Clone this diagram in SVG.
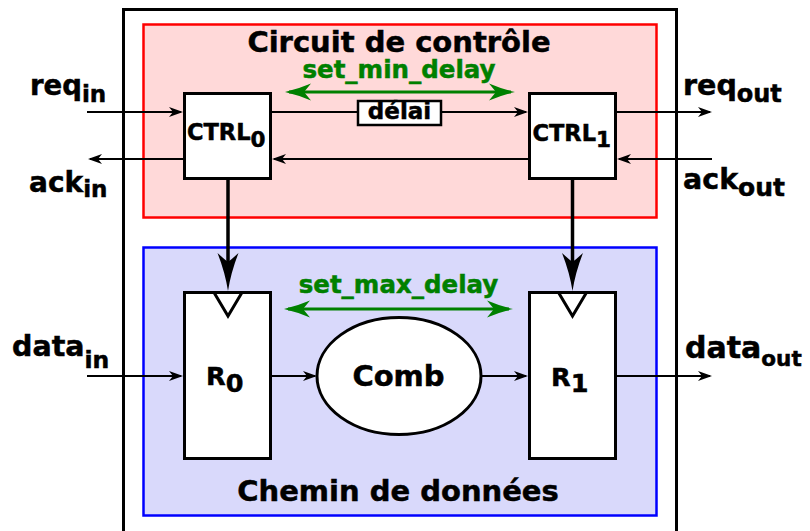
<svg xmlns="http://www.w3.org/2000/svg" width="810" height="531" viewBox="0 0 810 531">
  <style>
    .lbl { font-family: "DejaVu Sans", Verdana, sans-serif; font-weight: bold; fill: #000; stroke: #000; stroke-width: 0.5; }
    .grn { fill: #008000; stroke: #008000; }
    .wire { stroke: #000; stroke-width: 2; fill: none; }
    .clk { stroke: #000; stroke-width: 3; fill: none; }
    .box { fill: #fff; stroke: #000; stroke-width: 3; }
    .timing { stroke: #008000; stroke-width: 3; fill: none; }
  </style>
  <defs>
    <marker id="ah" markerUnits="userSpaceOnUse" markerWidth="16" markerHeight="12" viewBox="0 -6 16 12" refX="12" refY="0" orient="auto">
      <path d="M14,0 L0,-5 L4,0 L0,5 Z" fill="#000"/>
    </marker>
    <marker id="gh" markerUnits="userSpaceOnUse" markerWidth="28" markerHeight="18" viewBox="0 -9 28 18" refX="22" refY="0" orient="auto-start-reverse">
      <path d="M26,0 Q13,-3 0,-8.5 L7,0 L0,8.5 Q13,3 26,0 Z" fill="#008000"/>
    </marker>
  </defs>

  <!-- outer frame (continues below the bottom edge) -->
  <rect id="frame" x="123.5" y="9.5" width="553" height="540" fill="#fff" stroke="#000" stroke-width="3"/>

  <!-- control section -->
  <g id="control">
    <rect x="143.5" y="24.5" width="513" height="193" fill="#ffd9d9" stroke="#ff0000" stroke-width="2.5"/>
    <text class="lbl" x="399" y="52" font-size="29" text-anchor="middle">Circuit de contrôle</text>
  </g>

  <!-- datapath section -->
  <g id="datapath">
    <rect x="143.5" y="247.5" width="513" height="268" fill="#d9d9fb" stroke="#0000ff" stroke-width="2.5"/>
    <text class="lbl" x="398" y="501" font-size="29" text-anchor="middle">Chemin de données</text>
  </g>

  <!-- connectors -->
  <g id="connectors">
    <path class="wire" d="M87,112 H181" marker-end="url(#ah)"/>
    <path class="wire" d="M183,159 H90" marker-end="url(#ah)"/>
    <path class="wire" d="M272,112 H357"/>
    <path class="wire" d="M442,112 H526" marker-end="url(#ah)"/>
    <path class="wire" d="M528,159 H274" marker-end="url(#ah)"/>
    <path class="wire" d="M616,112 H710" marker-end="url(#ah)"/>
    <path class="wire" d="M712,159 H619" marker-end="url(#ah)"/>
    <path class="wire" d="M87,376 H181" marker-end="url(#ah)"/>
    <path class="wire" d="M272,376 H315" marker-end="url(#ah)"/>
    <path class="wire" d="M482,376 H526" marker-end="url(#ah)"/>
    <path class="wire" d="M616,376 H710" marker-end="url(#ah)"/>
    <!-- clock lines from controllers to registers -->
    <path d="M228,180 V262" stroke="#000" stroke-width="3.5" fill="none"/>
    <path d="M228,291 Q225,272 217.5,253 Q224,259 228,262 Q232,259 238.5,253 Q231,272 228,291 Z" fill="#000"/>
    <path d="M572.5,180 V262" stroke="#000" stroke-width="3.5" fill="none"/>
    <path d="M572.5,291 Q569.5,272 562,253 Q568.5,259 572.5,262 Q576.5,259 583,253 Q575.5,272 572.5,291 Z" fill="#000"/>
    <!-- timing constraints -->
    <path class="timing" d="M289,92 H511" marker-start="url(#gh)" marker-end="url(#gh)"/>
    <path class="timing" d="M288,309 H509" marker-start="url(#gh)" marker-end="url(#gh)"/>
  </g>

  <g id="set_min_delay">
    <text class="lbl grn" x="399" y="78" font-size="24.5" text-anchor="middle">set_min_delay</text>
  </g>
  <g id="set_max_delay">
    <text class="lbl grn" x="398.5" y="293" font-size="24.5" text-anchor="middle">set_max_delay</text>
  </g>

  <g id="delai">
    <rect x="358" y="101" width="83" height="24" fill="#fff" stroke="#000" stroke-width="2.5"/>
    <text class="lbl" x="399.5" y="119" font-size="23" text-anchor="middle">délai</text>
  </g>

  <g id="ctrl0">
    <rect class="box" x="184.5" y="93.5" width="86" height="85"/>
    <text class="lbl" x="187" y="140" font-size="22.5">CTRL<tspan font-size="21.5" dy="6.5">0</tspan></text>
  </g>
  <g id="ctrl1">
    <rect class="box" x="529.5" y="93.5" width="86" height="85"/>
    <text class="lbl" x="532.5" y="141" font-size="22.5">CTRL<tspan font-size="21.5" dy="6">1</tspan></text>
  </g>

  <g id="r0">
    <rect class="box" x="184.5" y="292.5" width="86" height="166"/>
    <path class="clk" d="M214,292.5 L228,316 L242,292.5"/>
    <text class="lbl" x="206" y="385" font-size="25.5">R<tspan font-size="25.5" dy="7">0</tspan></text>
  </g>
  <g id="comb">
    <ellipse cx="399" cy="376" rx="82" ry="58.5" fill="#fff" stroke="#000" stroke-width="3"/>
    <text class="lbl" x="398.5" y="385.5" font-size="29" text-anchor="middle">Comb</text>
  </g>
  <g id="r1">
    <rect class="box" x="529.5" y="292.5" width="86" height="166"/>
    <path class="clk" d="M558.5,292.5 L572.5,316 L586.5,292.5"/>
    <text class="lbl" x="551" y="385.5" font-size="25.5">R<tspan font-size="25.5" dy="6">1</tspan></text>
  </g>

  <!-- port labels -->
  <g id="req_in"><text class="lbl" x="30" y="95" font-size="27.5">req<tspan font-size="23" dy="7">in</tspan></text></g>
  <g id="ack_in"><text class="lbl" x="29" y="192" font-size="28">ack<tspan font-size="23" dy="5">in</tspan></text></g>
  <g id="req_out"><text class="lbl" x="683" y="95" font-size="28.5">req<tspan font-size="24" dy="7">out</tspan></text></g>
  <g id="ack_out"><text class="lbl" x="683" y="188.5" font-size="28.5">ack<tspan font-size="25" dy="7.5">out</tspan></text></g>
  <g id="data_in"><text class="lbl" x="12" y="356" font-size="28.5">data<tspan font-size="23.5" dy="12">in</tspan></text></g>
  <g id="data_out"><text class="lbl" x="685" y="358" font-size="30">data<tspan font-size="21.5" dy="8">out</tspan></text></g>
</svg>
